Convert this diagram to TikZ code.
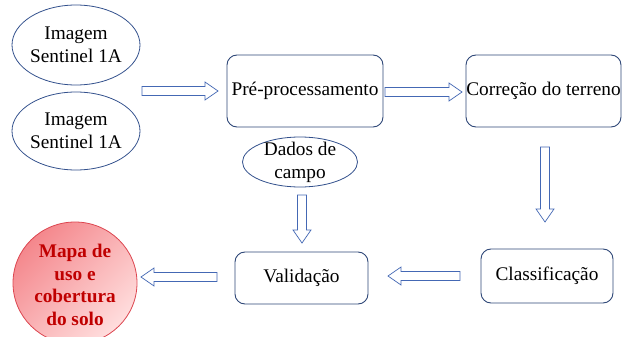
\documentclass[tikz,border=0pt]{standalone}
\usepackage{fontspec}
\setmainfont{Liberation Serif}
\usetikzlibrary{shapes.geometric,calc}
\definecolor{boxline}{RGB}{47,72,120}
\definecolor{ellline}{RGB}{50,80,140}
\definecolor{arrline}{RGB}{68,104,180}
\definecolor{mapred}{RGB}{192,0,0}
\definecolor{mapdark}{RGB}{244,135,140}
\definecolor{maplight}{RGB}{255,222,222}
\definecolor{mapedge}{RGB}{220,70,80}
\newcommand\hollowarrow[2]{%
  \coordinate (hah) at ($(#2)!13pt!(#1)$);
  \draw[harrow] ($(#1)!4.5pt!90:(#2)$) -- ($(hah)!4.5pt!90:(#2)$) -- ($(hah)!9pt!90:(#2)$) -- (#2)
    -- ($(hah)!9pt!-90:(#2)$) -- ($(hah)!4.5pt!-90:(#2)$) -- ($(#1)!4.5pt!-90:(#2)$) -- cycle;}
\tikzset{
  txt/.style={font=\fontsize{19.3}{23}\selectfont, align=center, inner sep=0pt},
  stepbox/.style={draw=boxline, line width=0.9pt, rounded corners=10pt, fill=white},
  oval/.style={ellipse, draw=ellline, line width=0.8pt, inner sep=0pt},
  harrow/.style={draw=arrline, line width=0.7pt, fill=white, line join=miter},
}
\begin{document}
\begin{tikzpicture}[x=1pt,y=-1pt]
\useasboundingbox (0,0) rectangle (622,337);
% ellipses
\node[oval, minimum width=128pt, minimum height=80pt] (img1) at (76,45) {};
\node[txt] (img1t) at (img1) {Imagem\\Sentinel 1A};
\node[oval, minimum width=128pt, minimum height=78pt] (img2) at (76,131) {};
\node[txt] (img2t) at (img2) {Imagem\\Sentinel 1A};
\node[oval, minimum width=115pt, minimum height=50pt] (dados) at (300,162) {};
\node[txt] (dadost) at (dados) {Dados de\\campo};
\node[ellipse, draw=mapedge, line width=0.8pt, inner sep=0pt, minimum width=124pt, minimum height=122pt,
      top color=mapdark, bottom color=maplight, shading angle=45] (mapa) at (75,283) {};
\node[txt, font=\fontsize{19.3}{22.5}\selectfont\bfseries, text=mapred] (mapat) at (75,285) {Mapa de\\uso e\\cobertura\\do solo};
% boxes
\node[stepbox, txt, minimum width=156pt, minimum height=72pt] (pre) at (305,91) {Pré-processamento};
\node[stepbox, txt, minimum width=155pt, minimum height=72pt] (cor) at (543.5,91) {Correção do terreno};
\node[stepbox, txt, minimum width=133pt, minimum height=52pt] (val) at (301.5,278) {Validação};
\node[stepbox, txt, minimum width=132pt, minimum height=54pt] (cla) at (547,276) {Classificação};
% arrow ends
\coordinate (a1s) at (142,91);  \coordinate (a1e) at (218,91);
\coordinate (a2s) at (385,92);  \coordinate (a2e) at (462,92);
\coordinate (a3s) at (545,147); \coordinate (a3e) at (545,222);
\coordinate (a4s) at (460,276); \coordinate (a4e) at (388,276);
\coordinate (a5s) at (302,195); \coordinate (a5e) at (302,243);
\coordinate (a6s) at (217,277); \coordinate (a6e) at (141,277);
\hollowarrow{a1s}{a1e}
\hollowarrow{a2s}{a2e}
\hollowarrow{a3s}{a3e}
\hollowarrow{a4s}{a4e}
\hollowarrow{a5s}{a5e}
\hollowarrow{a6s}{a6e}
\end{tikzpicture}
\end{document}
